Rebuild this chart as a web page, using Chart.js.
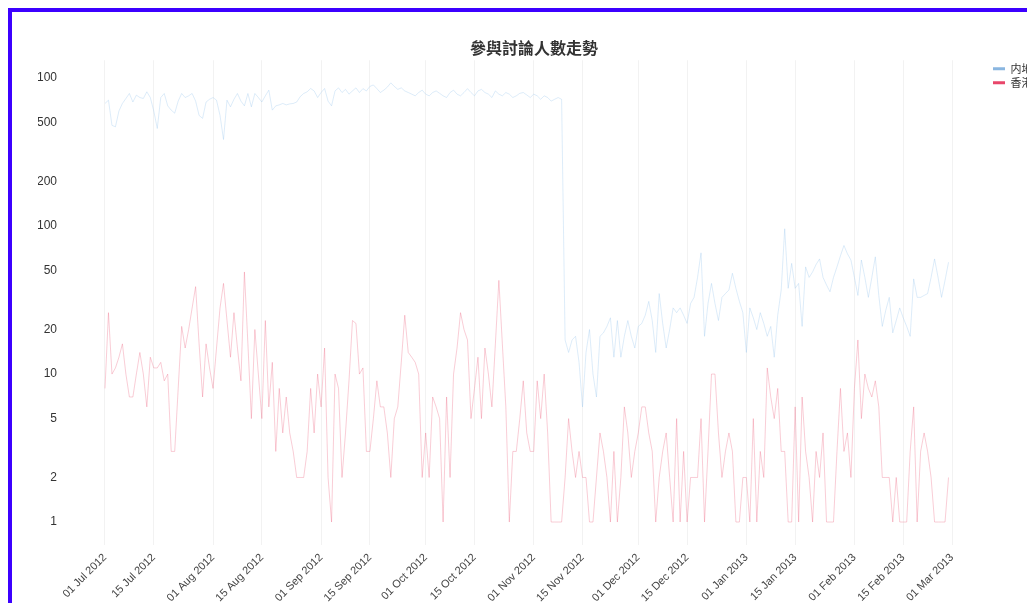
<!DOCTYPE html>
<html>
<head>
<meta charset="utf-8">
<script src="https://cdn.jsdelivr.net/npm/chart.js@4/dist/chart.umd.min.js"></script>
<style>
  html, body { margin: 0; padding: 0; overflow: hidden; background: #fff; }
  body { padding: 8px; }
  #box { border: 4px solid rgb(60, 0, 255); width: 1040px; height: 620px; }
  canvas { display: block; }
</style>
</head>
<body>
<div id="box"><canvas id="c" width="1040" height="620"></canvas></div>
<script>
// Series names
const seriesNames = ['内地', '香港'];
// Daily values, day 0 = 01 Jul 2012
const mainland = [
  675,710,480,469,600,675,729,788,690,768,
  740,729,809,740,600,457,740,788,650,608,
  580,700,788,740,760,788,700,560,535,690,
  720,740,710,560,385,710,640,720,788,700,
  650,788,640,788,740,690,760,830,608,650,
  660,675,660,670,675,690,750,788,809,852,
  820,740,800,852,
  700,650,820,860,800,840,780,820,860,800,
  850,820,880,900,850,800,830,870,930,880,
  840,860,820,800,780,760,800,830,780,760,
  800,820,790,760,740,800,830,780,760,800,
  850,800,760,820,840,800,780,740,820,780,
  760,800,780,740,760,790,800,770,740,780,
  760,720,760,740,700,720,740,720,
  17,14,17,18,12,6,14,20,10,7,
  18,19,21,24,13,23,13,18,23,18,
  15,21,22,25,31,23,14,35,22,15,
  20,28,26,28,25,22,30,33,45,66,
  18,30,41,30,23,33,35,37,48,38,
  31,26,14,28,24,20,26,22,18,21,
  13,25,37,96,38,56,38,41,21,53,
  45,49,55,60,45,40,36,45,53,63,
  74,65,59,45,34,59,45,33,45,62,
  34,21,27,33,19,23,28,24,21,18,
  44,33,33,34,35,45,60,45,33,43,
  57
];
const hongkong = [
  8,26,10,11,13,16,10,7,7,10,
  14,10,6,13,11,11,12,9,10,3,
  3,8,21,15,20,28,39,16,7,16,
  11,8,15,28,41,23,13,26,15,9,
  49,16,5,20,10,5,23,6,12,3,
  8,4,7,4,3,2,2,2,3,8,
  4,10,6,15,2,1,10,8,2,4,
  9,23,22,10,11,3,3,5,9,6,
  6,4,2,5,6,12,25,14,13,12,
  10,2,4,2,7,6,5,1,7,2,
  10,15,26,20,17,5,8,13,5,15,
  10,6,16,43,16,6,1,3,3,5,
  9,4,3,3,9,5,10,4,1,1,
  1,1,2,5,3,2,3,2,2,1,
  1,2,4,3,2,1,3,1,2,6,
  4,2,3,4,6,6,4,3,1,2,
  3,4,2,1,5,1,3,1,2,2,
  2,5,1,3,10,10,4,2,3,4,
  3,1,1,2,2,1,5,1,3,2,
  11,7,5,8,3,3,1,1,6,1,
  7,3,2,1,3,2,4,1,1,1,
  3,8,3,4,2,8,17,5,10,8,
  7,9,6,2,2,2,1,2,1,1,
  1,3,6,1,3,4,3,2,1,1,
  1,1,2
];
// X ticks (day offsets from 01 Jul 2012) and their labels
const xTickDays = [0,14,31,45,62,76,92,106,123,137,153,167,184,198,215,229,243];
const xTickLabels = ['01 Jul 2012','15 Jul 2012','01 Aug 2012','15 Aug 2012','01 Sep 2012','15 Sep 2012',
  '01 Oct 2012','15 Oct 2012','01 Nov 2012','15 Nov 2012','01 Dec 2012','15 Dec 2012',
  '01 Jan 2013','15 Jan 2013','01 Feb 2013','15 Feb 2013','01 Mar 2013'];
// Y ticks
const yTickValues = [1,2,5,10,20,50,100,200,500,1000];
const yTickLabels = ['1','2','5','10','20','50','100','200','500','100'];

const lineColors = ['rgba(150,195,235,0.32)', 'rgba(235,90,120,0.3)'];
const legendColors = ['#8ab6e0', '#e8466a'];
const latin = "'Liberation Sans', Arial, sans-serif";
const cjk = "'Noto Sans CJK TC', 'Noto Sans CJK SC', sans-serif";

const toPts = arr => arr.map((v, i) => ({ x: i, y: v }));

new Chart(document.getElementById('c'), {
  type: 'line',
  data: {
    datasets: [
      { label: seriesNames[0], data: toPts(mainland), borderColor: lineColors[0], borderWidth: 1, pointRadius: 0, tension: 0, fill: false },
      { label: seriesNames[1], data: toPts(hongkong), borderColor: lineColors[1], borderWidth: 1, pointRadius: 0, tension: 0, fill: false }
    ]
  },
  options: {
    responsive: false,
    animation: false,
    layout: { padding: { left: 26, right: 22, top: 0, bottom: 0 } },
    plugins: {
      title: {
        display: true,
        text: '參與討論人數走勢',
        color: '#333',
        font: { family: cjk, size: 16, weight: 'bold' },
        padding: { top: 26, bottom: 3 }
      },
      legend: {
        position: 'right',
        align: 'start',
        fullSize: false,
        maxWidth: 40,
        labels: {
          boxWidth: 12,
          boxHeight: 3,
          padding: 3,
          color: '#333',
          font: { family: cjk, size: 11 },
          generateLabels: chart => chart.data.datasets.map((d, i) => ({
            text: d.label, fillStyle: legendColors[i], strokeStyle: legendColors[i],
            lineWidth: 0, hidden: false, datasetIndex: i, fontColor: '#333'
          }))
        }
      },
      tooltip: { enabled: false }
    },
    scales: {
      x: {
        type: 'linear',
        bounds: 'data',
        min: -8.03,
        max: 253.9,
        afterBuildTicks: s => { s.ticks = xTickDays.map(v => ({ value: v })); },
        afterFit: s => { s.height = 95; },
        grid: { color: 'rgba(0,0,0,0.05)', tickLength: 8, drawTicks: true },
        border: { display: false },
        ticks: {
          autoSkip: false, minRotation: 45, maxRotation: 45, padding: 6,
          color: '#444', font: { family: latin, size: 11 },
          callback: (v, i) => xTickLabels[i]
        }
      },
      y: {
        type: 'logarithmic',
        bounds: 'data',
        min: 0.792,
        max: 1323,
        afterBuildTicks: s => { s.ticks = yTickValues.map(v => ({ value: v })); },
        afterFit: s => { s.width = 39; },
        grid: { display: false, drawTicks: false },
        border: { display: false },
        ticks: {
          padding: 20, color: '#333', font: { family: latin, size: 12 },
          callback: (v, i) => yTickLabels[i]
        }
      }
    }
  }
});
</script>
</body>
</html>
